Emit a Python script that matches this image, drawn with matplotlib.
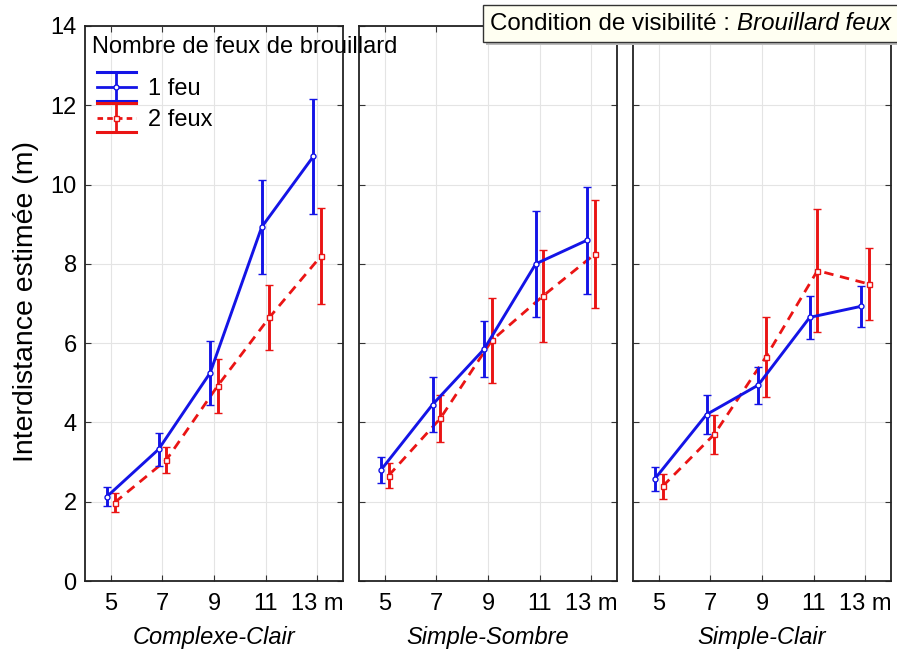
import matplotlib
matplotlib.use("Agg")
import matplotlib.pyplot as plt
from matplotlib.lines import Line2D
from matplotlib.patches import Rectangle
from matplotlib.legend_handler import HandlerBase

plt.rcParams['font.family'] = ['Liberation Sans', 'DejaVu Sans']

# ---------------- data ----------------
distances = [5, 7, 9, 11, 13]
tick_labels = ['5', '7', '9', '11', '13 m']
conditions = ['Complexe-Clair', 'Simple-Sombre', 'Simple-Clair']
series_labels = ['1 feu', '2 feux']
legend_title = 'Nombre de feux de brouillard'
ylabel = 'Interdistance estimée (m)'
yticks = [0, 2, 4, 6, 8, 10, 12, 14]

cc_1feu = [2.13, 3.32, 5.25, 8.93, 10.71]
cc_1feu_err = [0.24, 0.42, 0.81, 1.18, 1.44]
cc_2feux = [1.98, 3.05, 4.93, 6.65, 8.20]
cc_2feux_err = [0.24, 0.32, 0.68, 0.82, 1.20]

ss_1feu = [2.80, 4.45, 5.85, 8.00, 8.60]
ss_1feu_err = [0.33, 0.70, 0.70, 1.34, 1.35]
ss_2feux = [2.66, 4.10, 6.07, 7.20, 8.25]
ss_2feux_err = [0.32, 0.60, 1.07, 1.16, 1.36]

sc_1feu = [2.58, 4.20, 4.94, 6.65, 6.93]
sc_1feu_err = [0.30, 0.50, 0.47, 0.55, 0.52]
sc_2feux = [2.39, 3.70, 5.65, 7.83, 7.49]
sc_2feux_err = [0.32, 0.50, 1.02, 1.56, 0.90]

panels = [
    (cc_1feu, cc_1feu_err, cc_2feux, cc_2feux_err),
    (ss_1feu, ss_1feu_err, ss_2feux, ss_2feux_err),
    (sc_1feu, sc_1feu_err, sc_2feux, sc_2feux_err),
]

BLUE = '#1414E6'
RED = '#EA1414'
FS = 17

W, H = 897, 652
fig = plt.figure(figsize=(W / 100, H / 100), dpi=100)

lefts = [85, 359, 633]
width_px = 258
top_px, bottom_px = 26, 581
offset = 0.15

axes = []
for i, (b, be, r, re) in enumerate(panels):
    ax = fig.add_axes([lefts[i] / W, 1 - bottom_px / H, width_px / W, (bottom_px - top_px) / H])
    axes.append(ax)
    xb = [d - offset for d in distances]
    xr = [d + offset for d in distances]
    ax.errorbar(xr, r, yerr=re, color=RED, lw=2.0, ls=(0, (3.4, 2.4)),
                elinewidth=2.1, capsize=3.0, capthick=2.1,
                marker='s', ms=3.6, mfc='white', mec=RED, mew=1.0, zorder=3)
    ax.errorbar(xb, b, yerr=be, color=BLUE, lw=2.1, ls='-',
                elinewidth=2.1, capsize=3.0, capthick=2.1,
                marker='o', ms=3.6, mfc='white', mec=BLUE, mew=1.0, zorder=4)
    ax.set_xlim(4, 14)
    ax.set_ylim(0, 14)
    ax.set_xticks(distances)
    ax.set_xticklabels(tick_labels, fontsize=FS)
    ax.set_yticks(yticks)
    if i == 0:
        ax.set_yticklabels([str(v) for v in yticks], fontsize=FS)
    else:
        ax.set_yticklabels([])
    ax.tick_params(axis='both', direction='in', length=4, width=0.8,
                   top=True, right=True, color='#333333')
    ax.tick_params(axis='x', pad=9)
    ax.tick_params(axis='y', pad=6)
    ax.grid(True, color='#E4E4E4', lw=0.8, zorder=0)
    ax.set_axisbelow(True)
    for s in ax.spines.values():
        s.set_linewidth(1.3)
        s.set_color('#222222')
    ax.text(0.5, -0.101, conditions[i], transform=ax.transAxes, ha='center', va='center',
            fontsize=FS, style='italic')

fig.text(26 / W, 1 - 301 / H, ylabel, rotation=90, ha='center', va='center', fontsize=20.5)


# ---- custom legend handles (Statistica style) ----
class ErrHandler(HandlerBase):
    def __init__(self, color, ls, marker):
        super().__init__()
        self.color, self.ls, self.marker = color, ls, marker

    def create_artists(self, legend, orig_handle, xdescent, ydescent, width, height, fontsize, trans):
        yc = height / 2 - ydescent
        x0, x1 = -xdescent, width - xdescent
        xm = (x0 + x1) / 2
        dh = 10.5
        arts = [
            Line2D([x0, x1], [yc + dh, yc + dh], color=self.color, lw=2.2),
            Line2D([x0, x1], [yc - dh, yc - dh], color=self.color, lw=2.2),
            Line2D([xm, xm], [yc - dh, yc + dh], color=self.color, lw=2.0),
            Line2D([x0, x1], [yc, yc], color=self.color, lw=2.0, ls=self.ls),
            Line2D([xm], [yc], marker=self.marker, ms=3.6, mfc='white', mec=self.color, mew=1.0, ls='none'),
        ]
        for a in arts:
            a.set_transform(trans)
        return arts


fig.text(92 / W, 1 - 47 / H, legend_title, ha='left', va='center', fontsize=FS, zorder=30)

h1 = Line2D([], [], color=BLUE)
h2 = Line2D([], [], color=RED)
leg = fig.legend([h1, h2], series_labels,
                 handler_map={h1: ErrHandler(BLUE, '-', 'o'), h2: ErrHandler(RED, (0, (2.0, 1.5)), 's')},
                 fontsize=FS, loc='upper left', bbox_to_anchor=(97 / W, 1 - 78 / H),
                 bbox_transform=fig.transFigure,
                 frameon=False, handlelength=1.65, handletextpad=0.5, labelspacing=0.38,
                 borderpad=0.0, borderaxespad=0.0)
leg.set_zorder(30)

# ---- condition title box ----
box_l, box_t, box_b = 483, 5, 42
fig.patches.append(Rectangle((box_l / W + 0.003, 1 - (box_b + 3) / H), (W - box_l) / W, (box_b - box_t) / H,
                             transform=fig.transFigure, facecolor='#BBBBBB', edgecolor='none', zorder=20))
fig.patches.append(Rectangle((box_l / W, 1 - box_b / H), (W - box_l) / W + 0.01, (box_b - box_t) / H,
                             transform=fig.transFigure, facecolor='#FFFFF2', edgecolor='#333333', lw=1.0, zorder=21))
t1 = fig.text(490 / W, 1 - 24 / H, 'Condition de visibilité : ', ha='left', va='center', fontsize=17.4, zorder=22)
fig.canvas.draw()
ext = t1.get_window_extent()
fig.text(ext.x1 / W, 1 - 24 / H, 'Brouillard feux', ha='left', va='center', fontsize=17.4, style='italic', zorder=22)

fig.savefig('out.png', dpi=100)
